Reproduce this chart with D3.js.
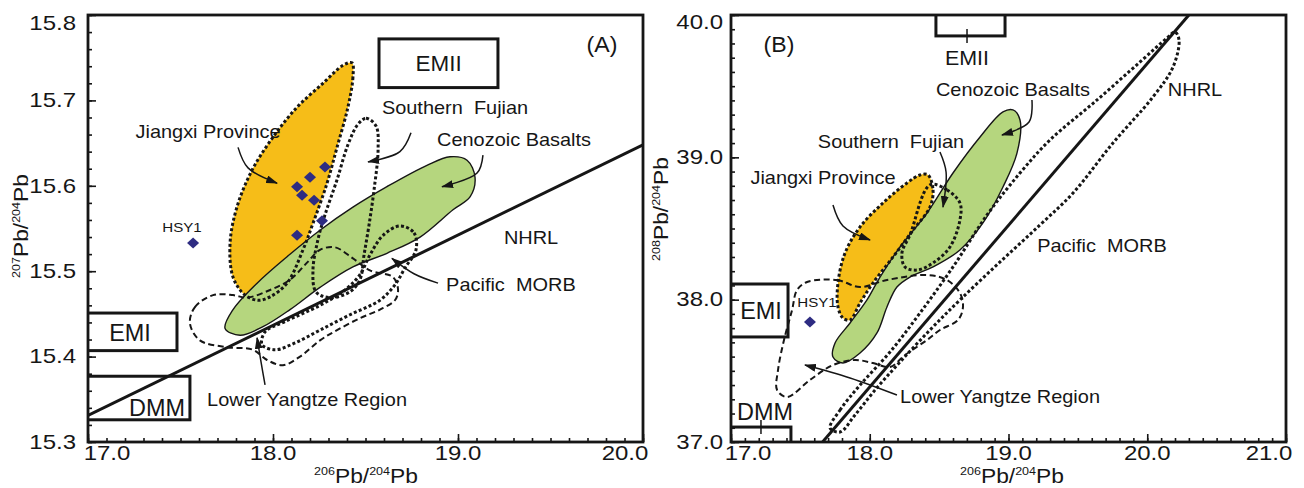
<!DOCTYPE html>
<html><head><meta charset="utf-8">
<script src="https://cdn.jsdelivr.net/npm/d3@7"></script>
<style>
html,body{margin:0;padding:0;background:#fff;}
svg{display:block;}
text{font-family:"Liberation Sans", Arial, sans-serif; fill:#161616;}
</style>
</head><body>
<svg id="chart" width="1304" height="488"></svg>
<script>
// ---------------- DATA ----------------
const xTicksA = [17.0, 18.0, 19.0, 20.0];
const yTicksA = [15.3, 15.4, 15.5, 15.6, 15.7, 15.8];
const xTicksB = [17.0, 18.0, 19.0, 20.0, 21.0];
const yTicksB = [37.0, 38.0, 39.0, 40.0];

// Panel A: 207Pb/204Pb vs 206Pb/204Pb
const jiangxiA = [[18.427,15.744],[18.432,15.727],[18.405,15.692],[18.346,15.645],[18.292,15.603],[18.216,15.556],[18.162,15.525],[18.076,15.486],[17.984,15.470],[17.919,15.466],[17.849,15.472],[17.784,15.493],[17.768,15.533],[17.805,15.575],[17.886,15.618],[18.000,15.657],[18.130,15.692],[18.270,15.720],[18.378,15.741]];
const cenozoicA = [[17.741,15.433],[17.822,15.425],[17.946,15.435],[18.092,15.455],[18.254,15.481],[18.432,15.505],[18.616,15.521],[18.795,15.540],[18.973,15.572],[19.065,15.587],[19.092,15.610],[19.049,15.630],[18.957,15.634],[18.832,15.624],[18.616,15.599],[18.432,15.575],[18.254,15.548],[18.076,15.517],[17.914,15.486],[17.784,15.455]];
const fujianA = [[18.459,15.672],[18.503,15.679],[18.557,15.670],[18.568,15.642],[18.546,15.595],[18.519,15.554],[18.492,15.519],[18.470,15.490],[18.416,15.476],[18.308,15.469],[18.232,15.476],[18.216,15.501],[18.243,15.537],[18.281,15.566],[18.346,15.607],[18.405,15.648]];
const morbA = [[18.686,15.553],[18.762,15.545],[18.773,15.525],[18.714,15.504],[18.659,15.484],[18.578,15.466],[18.416,15.449],[18.254,15.431],[18.119,15.416],[18.011,15.408],[17.941,15.414],[17.957,15.429],[18.065,15.441],[18.254,15.460],[18.389,15.478],[18.470,15.496],[18.524,15.519],[18.595,15.542]];
const yangtzeA = [[17.551,15.439],[17.578,15.458],[17.676,15.472],[17.784,15.472],[17.859,15.469],[17.984,15.478],[18.092,15.490],[18.184,15.510],[18.254,15.525],[18.335,15.528],[18.432,15.515],[18.524,15.501],[18.649,15.493],[18.676,15.478],[18.659,15.466],[18.578,15.455],[18.470,15.445],[18.346,15.431],[18.254,15.419],[18.146,15.400],[18.054,15.390],[17.968,15.396],[17.892,15.408],[17.751,15.411],[17.605,15.419]];
const nhrlA = [[17.0,15.331],[20.0,15.648]];
const samplesA = [[18.281,15.622],[18.200,15.610],[18.130,15.599],[18.157,15.589],[18.222,15.583],[18.265,15.559],[18.130,15.542]];
const hsy1A = [[17.568,15.533]];
const boxesA = [["EMII",18.573,19.216,15.715,15.772],["EMI",16.98,17.481,15.407,15.451],["DMM",16.98,17.551,15.326,15.377]];
const arrowsA = [
  [[17.811,15.645],[17.865,15.621],[18.022,15.603]],
  [[18.746,15.662],[18.686,15.640],[18.514,15.628]],
  [[19.135,15.636],[19.103,15.615],[18.914,15.599]],
  [[18.892,15.486],[18.762,15.497],[18.643,15.515]],
  [[17.957,15.367],[17.935,15.394],[17.914,15.422]]
];
const labelsA = [
  ["Jiangxi Province",17.649,15.663],["Southern  Fujian",18.984,15.691],["Cenozoic Basalts",19.303,15.654],
  ["NHRL",19.395,15.539],["Pacific  MORB",19.286,15.484],["Lower Yangtze Region",18.184,15.349]
];
const boxLabelsA = [["EMII",18.895,15.743],["EMI",17.227,15.428],["DMM",17.373,15.340]];
const hsyLabelA = [["HSY1",17.508,15.551]];
const panelLetterA = [["(A)",19.778,15.765]];

// Panel B: 208Pb/204Pb vs 206Pb/204Pb
const jiangxiB = [[18.420,38.876],[18.456,38.771],[18.434,38.651],[18.312,38.489],[18.168,38.300],[18.023,38.117],[17.930,37.977],[17.858,37.857],[17.807,37.871],[17.771,37.949],[17.771,38.117],[17.822,38.328],[17.930,38.511],[18.095,38.679],[18.268,38.820],[18.362,38.876]];
const cenozoicB = [[19.032,39.333],[19.083,39.262],[19.061,39.030],[18.960,38.792],[18.816,38.539],[18.650,38.349],[18.456,38.230],[18.290,38.159],[18.196,38.089],[18.124,37.949],[18.052,37.766],[17.930,37.625],[17.807,37.555],[17.735,37.597],[17.750,37.696],[17.858,37.836],[17.980,37.998],[18.074,38.159],[18.218,38.370],[18.413,38.609],[18.600,38.890],[18.795,39.143],[18.960,39.319]];
const fujianB = [[18.434,38.806],[18.557,38.771],[18.650,38.679],[18.650,38.560],[18.578,38.370],[18.456,38.258],[18.341,38.208],[18.254,38.230],[18.232,38.328],[18.290,38.454]];
const morbB = [[17.714,37.098],[17.786,37.225],[17.930,37.400],[18.146,37.632],[18.362,37.906],[18.600,38.230],[18.845,38.595],[19.083,38.890],[19.299,39.122],[19.638,39.403],[19.948,39.670],[20.142,39.838],[20.200,39.881],[20.229,39.824],[20.186,39.635],[20.041,39.424],[19.753,39.101],[19.465,38.749],[19.227,38.525],[18.939,38.265],[18.650,37.998],[18.434,37.787],[18.218,37.562],[18.038,37.365],[17.894,37.190],[17.786,37.070]];
const yangtzeB = [[17.548,38.124],[17.764,38.138],[17.930,38.089],[18.124,38.138],[18.413,38.173],[18.557,38.138],[18.650,38.047],[18.672,37.949],[18.636,37.857],[18.506,37.787],[18.413,37.717],[18.254,37.611],[18.146,37.527],[18.023,37.555],[17.894,37.576],[17.735,37.541],[17.569,37.436],[17.404,37.316],[17.332,37.365],[17.339,37.506],[17.382,37.717],[17.440,37.927],[17.476,38.068]];
const nhrlB = [[17.66,37.0],[20.30,40.0]];
const samplesB = [];
const hsy1B = [[17.569,37.843]];
const boxesB = [["EMII",18.477,18.975,39.853,40.2],["EMI",16.98,17.411,37.738,38.110],["DMM",16.98,17.432,36.9,37.105]];
const boxTicksB = [[18.701,39.853],[17.216,37.105]];
const arrowsB = [
  [[17.735,38.665],[17.807,38.518],[18.002,38.419]],
  [[18.506,39.037],[18.550,38.897],[18.528,38.651]],
  [[19.169,39.403],[19.148,39.248],[18.953,39.157]],
  [[18.196,37.330],[17.858,37.450],[17.533,37.541]]
];
const labelsB = [
  ["Cenozoic Basalts",19.032,39.473],["Southern  Fujian",18.153,39.108],["Jiangxi Province",17.663,38.855],
  ["NHRL",20.344,39.473],["Pacific  MORB",19.674,38.377],["Lower Yangtze Region",18.939,37.316]
];
const boxLabelsB = [["EMII",18.701,39.698],["EMI",17.216,37.920],["DMM",17.245,37.211]];
const hsyLabelB = [["HSY1",17.620,37.984]];
const panelLetterB = [["(B)",17.346,39.789]];

// ---------------- STYLE ----------------
const ORANGE = "#f6bd18", GREEN = "#b5d67e", NAVY = "#2e2c82", INK = "#161616";

const svg = d3.select("#chart");
const defs = svg.append("defs");
defs.append("marker").attr("id","arrowHead")
  .attr("viewBox","0 0 12 8").attr("refX",11).attr("refY",4)
  .attr("markerWidth",12).attr("markerHeight",8)
  .attr("markerUnits","userSpaceOnUse").attr("orient","auto")
  .append("path").attr("d","M0,0 L12,4 L0,8 Z").attr("fill",INK);

function addText(parent, px, py, str, size, anchor, sx) {
  const g = parent.append("g").attr("transform", `translate(${px},${py}) scale(${sx},1)`);
  g.append("text").attr("text-anchor", anchor).attr("dominant-baseline","central")
    .attr("font-size", size).style("white-space","pre").text(str);
  return g;
}

function supTitle(parent, px, py, parts, rot, sx) {
  const g = parent.append("g").attr("transform", `translate(${px},${py}) rotate(${rot}) scale(${sx},1)`);
  const t = g.append("text").attr("text-anchor","middle");
  parts.forEach((s,i) => {
    const sup = i % 2 === 0;
    t.append("tspan").text(s).attr("font-size", sup ? 11 : 20).attr("dy", sup ? -8 : 8);
  });
}

const panels = [
  {id:"A", left:88, right:643, top:15, bottom:442, xDomain:[17,20], yDomain:[15.3,15.8],
   xTicks:xTicksA, yTicks:yTicksA, xStep:0.1, yStep:0.02,
   jiangxi:jiangxiA, cenozoic:cenozoicA, fujian:fujianA, morb:morbA, yangtze:yangtzeA, nhrl:nhrlA,
   boxes:boxesA, boxTicks:[], samples:samplesA, hsy1:hsy1A, arrows:arrowsA,
   labels:labelsA, boxLabels:boxLabelsA, hsyLabels:hsyLabelA, letter:panelLetterA,
   yLabelRight:76, yTitle:["207","Pb/","204","Pb"], yTitlePos:[28,226], xTitle:["206","Pb/","204","Pb"], xTitlePos:[366,483],
   firstShift:19, lastShift:-18, topShift:8, boxSize:[22,23,23]},
  {id:"B", left:731, right:1286, top:15, bottom:442, xDomain:[17,21], yDomain:[37,40],
   xTicks:xTicksB, yTicks:yTicksB, xStep:0.1, yStep:0.1,
   jiangxi:jiangxiB, cenozoic:cenozoicB, fujian:fujianB, morb:morbB, yangtze:yangtzeB, nhrl:nhrlB,
   boxes:boxesB, boxTicks:boxTicksB, samples:samplesB, hsy1:hsy1B, arrows:arrowsB,
   labels:labelsB, boxLabels:boxLabelsB, hsyLabels:hsyLabelB, letter:panelLetterB,
   yLabelRight:723, yTitle:["208","Pb/","204","Pb"], yTitlePos:[668,209], xTitle:["206","Pb/","204","Pb"], xTitlePos:[1012,483],
   firstShift:17, lastShift:-17, topShift:7, boxSize:[21,23,23]}
];

panels.forEach(p => {
  const x = d3.scaleLinear().domain(p.xDomain).range([p.left, p.right]);
  const y = d3.scaleLinear().domain(p.yDomain).range([p.bottom, p.top]);
  const g = svg.append("g");
  const clipId = "clip" + p.id;
  defs.append("clipPath").attr("id", clipId).append("rect")
    .attr("x", p.left).attr("y", p.top).attr("width", p.right - p.left).attr("height", p.bottom - p.top);
  const plot = g.append("g").attr("clip-path", `url(#${clipId})`);

  const closed = d3.line().x(d => x(d[0])).y(d => y(d[1])).curve(d3.curveCatmullRomClosed.alpha(0.5));
  const open = d3.line().x(d => x(d[0])).y(d => y(d[1])).curve(d3.curveCatmullRom.alpha(0.5));
  const straight = d3.line().x(d => x(d[0])).y(d => y(d[1]));

  // filled fields
  plot.append("path").attr("d", closed(p.jiangxi)).attr("fill", ORANGE);
  plot.append("path").attr("d", closed(p.cenozoic)).attr("fill", GREEN)
    .attr("stroke", INK).attr("stroke-width", 1.4);

  // outlines
  [p.jiangxi, p.fujian, p.morb].forEach(arr => {
    plot.append("path").attr("d", closed(arr)).attr("fill","none").attr("stroke", INK)
      .attr("stroke-width", 3).attr("stroke-dasharray", "3 2.3");
  });
  plot.append("path").attr("d", closed(p.yangtze)).attr("fill","none").attr("stroke", INK)
    .attr("stroke-width", 2).attr("stroke-dasharray","6 3.5");

  // NHRL
  plot.append("path").attr("d", straight(p.nhrl)).attr("fill","none").attr("stroke", INK).attr("stroke-width", 3);

  // end-member boxes
  p.boxes.forEach(b => {
    plot.append("rect").attr("x", x(b[1])).attr("y", y(b[4])).attr("width", x(b[2]) - x(b[1]))
      .attr("height", y(b[3]) - y(b[4])).attr("fill","none").attr("stroke", INK).attr("stroke-width", 3);
  });
  p.boxTicks.forEach(t => {
    plot.append("line").attr("x1", x(t[0])).attr("x2", x(t[0])).attr("y1", y(t[1]) - 7).attr("y2", y(t[1]) + 7)
      .attr("stroke", INK).attr("stroke-width", 1.5);
  });

  // samples
  const diamond = "M0,-5.5 L6,0 L0,5.5 L-6,0 Z";
  p.samples.concat(p.hsy1).forEach(s => {
    plot.append("path").attr("d", diamond).attr("transform", `translate(${x(s[0])},${y(s[1])})`).attr("fill", NAVY);
  });

  // arrows
  p.arrows.forEach(a => {
    plot.append("path").attr("d", open(a)).attr("fill","none").attr("stroke", INK)
      .attr("stroke-width", 1.5).attr("marker-end","url(#arrowHead)");
  });

  // labels
  p.labels.forEach(l => addText(g, x(l[1]), y(l[2]), l[0], 17.5, "middle", 1.14));
  p.boxLabels.forEach((l, i) => addText(g, x(l[1]), y(l[2]), l[0], p.boxSize[i], "middle", 1.02));
  p.hsyLabels.forEach(l => addText(g, x(l[1]), y(l[2]), l[0], 13.5, "middle", 1.12));
  p.letter.forEach(l => addText(g, x(l[1]), y(l[2]), l[0], 22, "middle", 1.05));

  // axes: ticks inside
  const nx = Math.round((p.xDomain[1] - p.xDomain[0]) / p.xStep);
  const ny = Math.round((p.yDomain[1] - p.yDomain[0]) / p.yStep);
  const xMinor = d3.range(0, nx + 1).map(i => p.xDomain[0] + i * p.xStep);
  const yMinor = d3.range(0, ny + 1).map(i => p.yDomain[0] + i * p.yStep);

  const ax1 = g.append("g").attr("transform", `translate(0,${p.bottom})`)
    .call(d3.axisBottom(x).tickValues(xMinor).tickSize(-4).tickFormat(""));
  const ax2 = g.append("g").attr("transform", `translate(0,${p.bottom})`)
    .call(d3.axisBottom(x).tickValues(p.xTicks).tickSize(-8).tickFormat(""));
  const ay1 = g.append("g").attr("transform", `translate(${p.left},0)`)
    .call(d3.axisLeft(y).tickValues(yMinor).tickSize(-4).tickFormat(""));
  const ay2 = g.append("g").attr("transform", `translate(${p.left},0)`)
    .call(d3.axisLeft(y).tickValues(p.yTicks).tickSize(-8).tickFormat(""));
  [ax1, ax2, ay1, ay2].forEach(a => {
    a.select(".domain").remove();
    a.selectAll("line").attr("stroke", INK).attr("stroke-width", 1.6);
  });

  // frame
  g.append("rect").attr("x", p.left).attr("y", p.top).attr("width", p.right - p.left)
    .attr("height", p.bottom - p.top).attr("fill","none").attr("stroke", INK).attr("stroke-width", 2.8);

  // tick labels
  const fmt = d3.format(".1f");
  p.xTicks.forEach((t, i) => {
    let dx = 0;
    if (i === 0) dx = p.firstShift;
    if (i === p.xTicks.length - 1) dx = p.lastShift;
    addText(g, x(t) + dx, p.bottom + 11, fmt(t), 20, "middle", 1.2);
  });
  p.yTicks.forEach((t, i) => {
    const dy = (i === p.yTicks.length - 1) ? p.topShift : 0;
    addText(g, p.yLabelRight, y(t) + dy, fmt(t), 20, "end", 1.2);
  });

  // axis titles
  supTitle(g, p.yTitlePos[0], p.yTitlePos[1], p.yTitle, -90, 1.14);
  supTitle(g, p.xTitlePos[0], p.xTitlePos[1], p.xTitle, 0, 1.14);
});
</script>
</body></html>
